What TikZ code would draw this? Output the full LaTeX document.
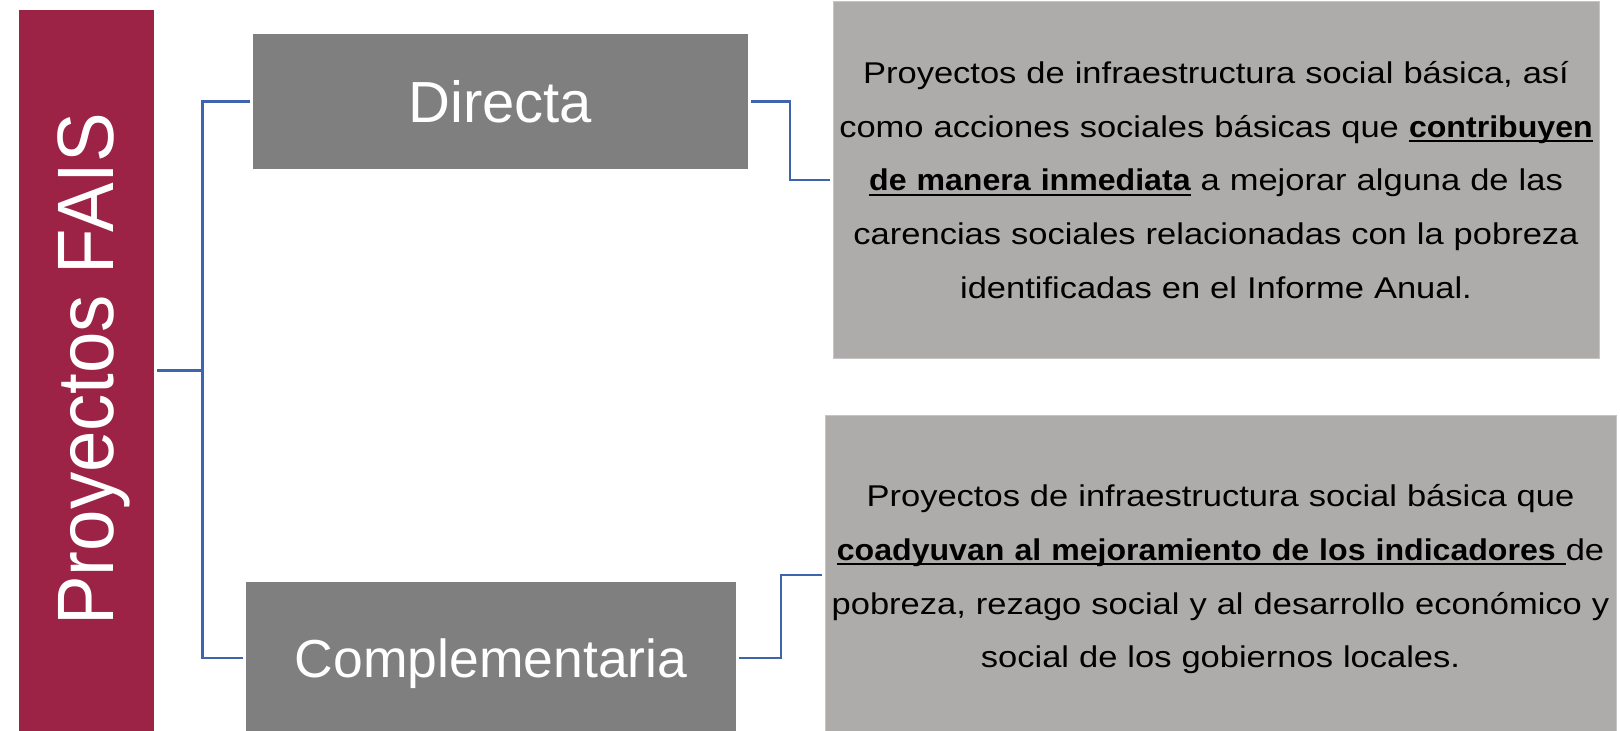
\documentclass[tikz,border=0pt]{standalone}
\usepackage{fontspec}
\setmainfont{Liberation Sans}
\newfontfamily\bodyfont[FakeStretch=1.15,BoldFeatures={FakeStretch=1.07}]{Liberation Sans}
\newfontfamily\barfont[FakeStretch=0.93]{Liberation Sans}
\definecolor{faisred}{HTML}{9C2346}
\definecolor{boxgray}{HTML}{7F7F7F}
\definecolor{txtgray}{HTML}{AEABAB}
\definecolor{connblue}{HTML}{3F64AE}
\newcommand{\myul}[1]{\leavevmode\setbox0\hbox{\bfseries #1}\rlap{\rule[-5pt]{\wd0}{2.2pt}}\box0\relax}
\tikzset{
  fbox/.style={inner sep=0pt, outer sep=0pt, fill=boxgray, text=white},
  tbox/.style={inner sep=0pt, outer sep=0pt, fill=txtgray, draw=txtgray!70!white, line width=0.8pt},
  ttext/.style={anchor=base, align=center, inner sep=0pt, text=black, font=\bodyfont\fontsize{30}{53.75}\selectfont},
  conn/.style={draw=connblue, line width=2.4pt},
}
\begin{document}
\begin{tikzpicture}[x=1pt,y=-1pt]
\useasboundingbox (0,0) rectangle (1620,731);
\clip (0,0) rectangle (1620,731);
% left bar
\node[inner sep=0pt, outer sep=0pt, fill=faisred, minimum width=135.3pt, minimum height=721pt] (bar) at (86.7,370.5) {};
\node[rotate=90, anchor=base, inner sep=0pt, text=white, font=\barfont\fontsize{80}{96}\selectfont] (bartxt) at (113,369.3) {Proyectos FAIS};
% category boxes
\node[fbox, minimum width=495.4pt, minimum height=135.6pt, font=\fontsize{58}{70}\selectfont] (dir) at (500.3,101.5) {Directa};
\node[fbox, minimum width=489.6pt, minimum height=151.7pt, text height=38.6pt, text depth=0pt, font=\fontsize{53.5}{66}\selectfont] (comp) at (491.1,658.2) {Complementaria};
% description boxes
\node[tbox, minimum width=766pt, minimum height=356.6pt] (top) at (1216,180) {};
\node[tbox, minimum width=791pt, minimum height=320pt] (bot) at (1220.5,575) {};
\node[ttext, text width=820pt] (toptxt) at (1216,83.3) {Proyectos de infraestructura social básica, así\\
como acciones sociales básicas que \myul{contribuyen}\\
\myul{de manera inmediata} a mejorar alguna de las\\
carencias sociales relacionadas con la pobreza\\
identificadas en el Informe Anual.};
\node[ttext, text width=830pt] (bottxt) at (1220.5,506.7) {Proyectos de infraestructura social básica que\\
\myul{coadyuvan al mejoramiento de los indicadores\ }de\\
pobreza, rezago social y al desarrollo económico y\\
social de los gobiernos locales.};
% connectors
\draw[conn] ([xshift=3pt]bar.east) -- ++(45,0) |- ([xshift=-3pt]dir.west);
\draw[conn] ([xshift=3pt]bar.east) -- ++(45,0) |- ([xshift=-3pt]comp.west);
\draw[conn] ([xshift=3pt]dir.east) -- ++(39,0) |- ([xshift=-3pt]top.west);
\draw[conn] ([xshift=3pt]comp.east) -- ++(42,0) |- ([xshift=-3pt]bot.west);
\end{tikzpicture}
\end{document}
